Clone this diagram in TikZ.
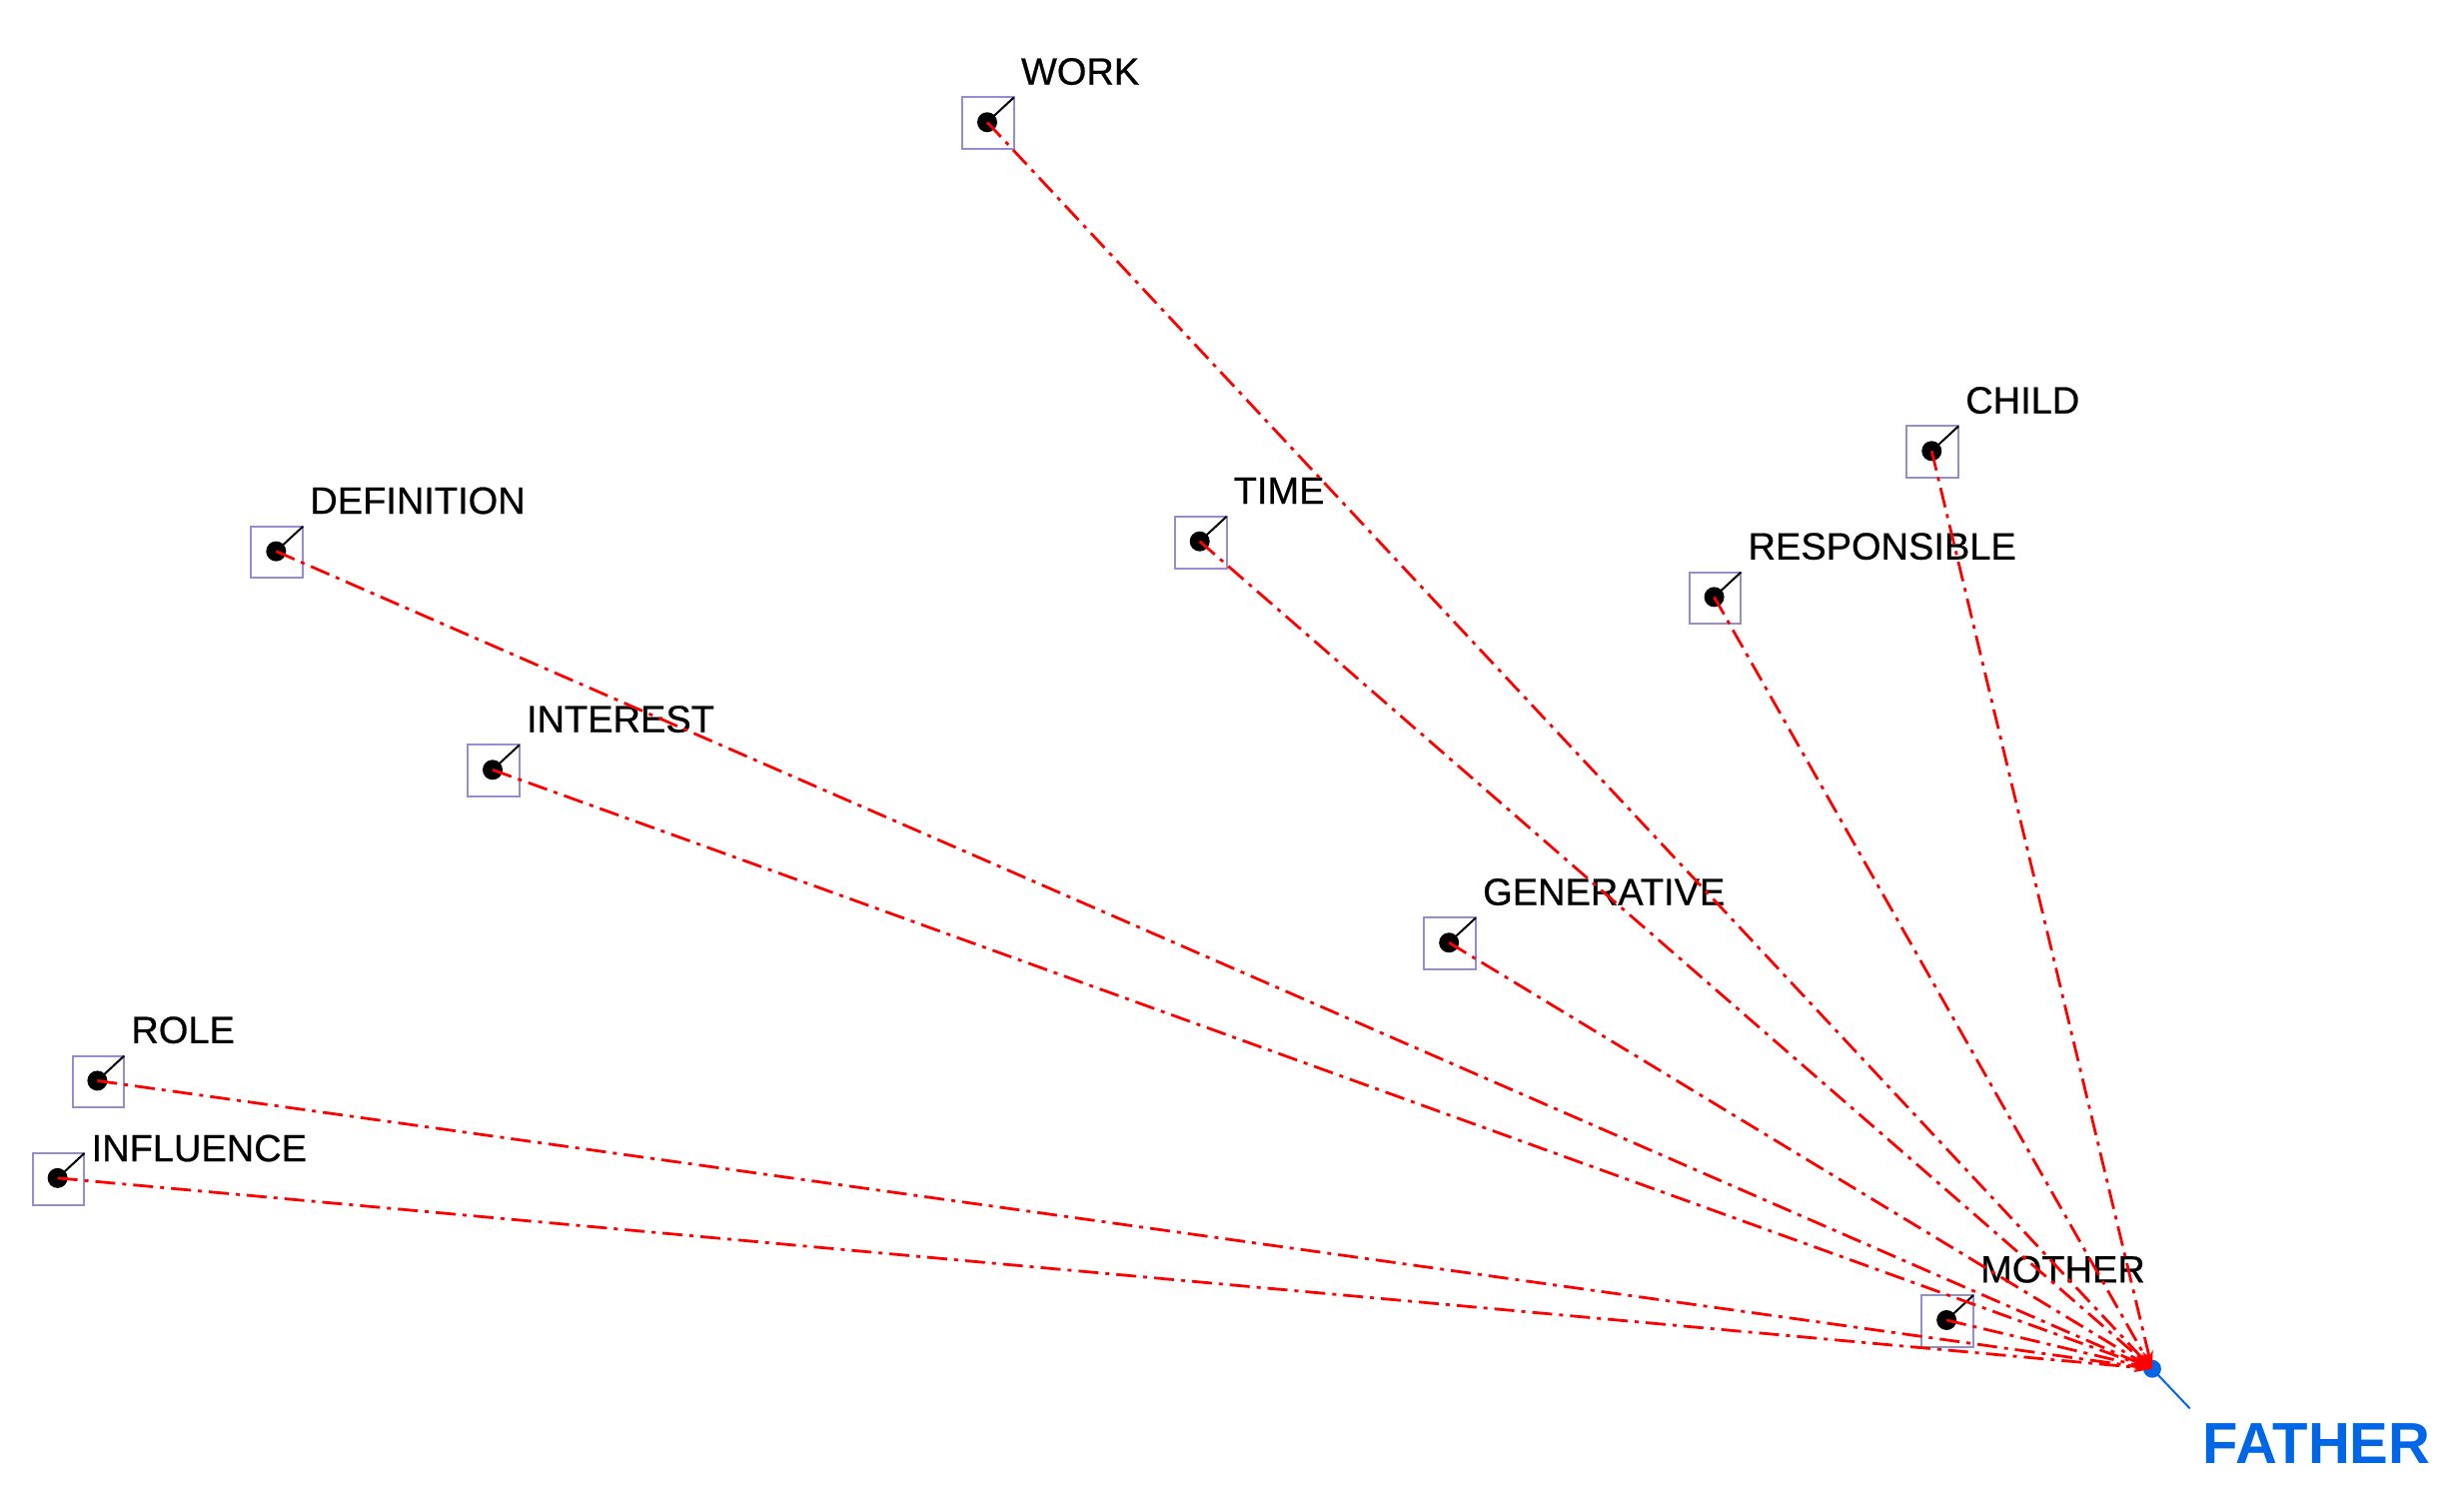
\documentclass[tikz,border=0pt]{standalone}
\usepackage{fontspec}
\setmainfont{Liberation Sans}
\newfontfamily\semib[FakeBold=0.6]{Liberation Sans}
\usetikzlibrary{arrows.meta}
\definecolor{fblue}{RGB}{0,102,230}
\definecolor{boxc}{RGB}{150,140,210}
\begin{document}
\begin{tikzpicture}[x=0.994pt,y=-0.994pt,
  lbl/.style={anchor=west,font=\semib\fontsize{38}{40}\selectfont,inner sep=0},
  link/.style={red,line width=2.8pt,dash pattern=on 20pt off 7pt on 4pt off 7pt,-{Stealth[length=18pt,width=10pt]}},
  dot/.style={circle,fill=black,inner sep=0,minimum size=20pt}]
\useasboundingbox (0,0) rectangle (2481,1511);
\newcommand{\wnode}[5]{%
  \node[dot] (#1) at (#2,#3) {};
  \draw[boxc,line width=2pt] (#2-25,#3-25) rectangle (#2+27,#3+27);
  \draw[black,line width=2pt] (#1.center) -- (#2+27,#3-25);
  \node[lbl] (#1l) at (#2+34,#3-#5) {#4};}
\wnode{work}{994}{123}{WORK}{51}
\wnode{child}{1945}{454}{CHILD}{51}
\wnode{def}{278}{555}{DEFINITION}{51}
\wnode{time}{1208}{545}{TIME}{51}
\wnode{resp}{1726}{601}{RESPONSIBLE}{51}
\wnode{inter}{496}{775}{INTEREST}{51}
\wnode{gen}{1459}{949}{GENERATIVE}{51}
\wnode{role}{98}{1088}{ROLE}{51}
\wnode{infl}{58}{1186}{INFLUENCE}{30}
\wnode{mother}{1960}{1329}{MOTHER}{51}
\node[circle,fill=fblue,inner sep=0,minimum size=18pt] (father) at (2167,1378) {};
\node[inner sep=0,anchor=west,font=\fontsize{58}{60}\selectfont\bfseries,text=fblue] (fatherl) at (2218,1453) {FATHER};
\draw[fblue,line width=2pt] (father.center) -- (2205,1418);
\foreach \n in {work,child,def,time,resp,inter,gen,role,infl,mother}
  \draw[link] (\n.center) -- (father.center);
\end{tikzpicture}
\end{document}
